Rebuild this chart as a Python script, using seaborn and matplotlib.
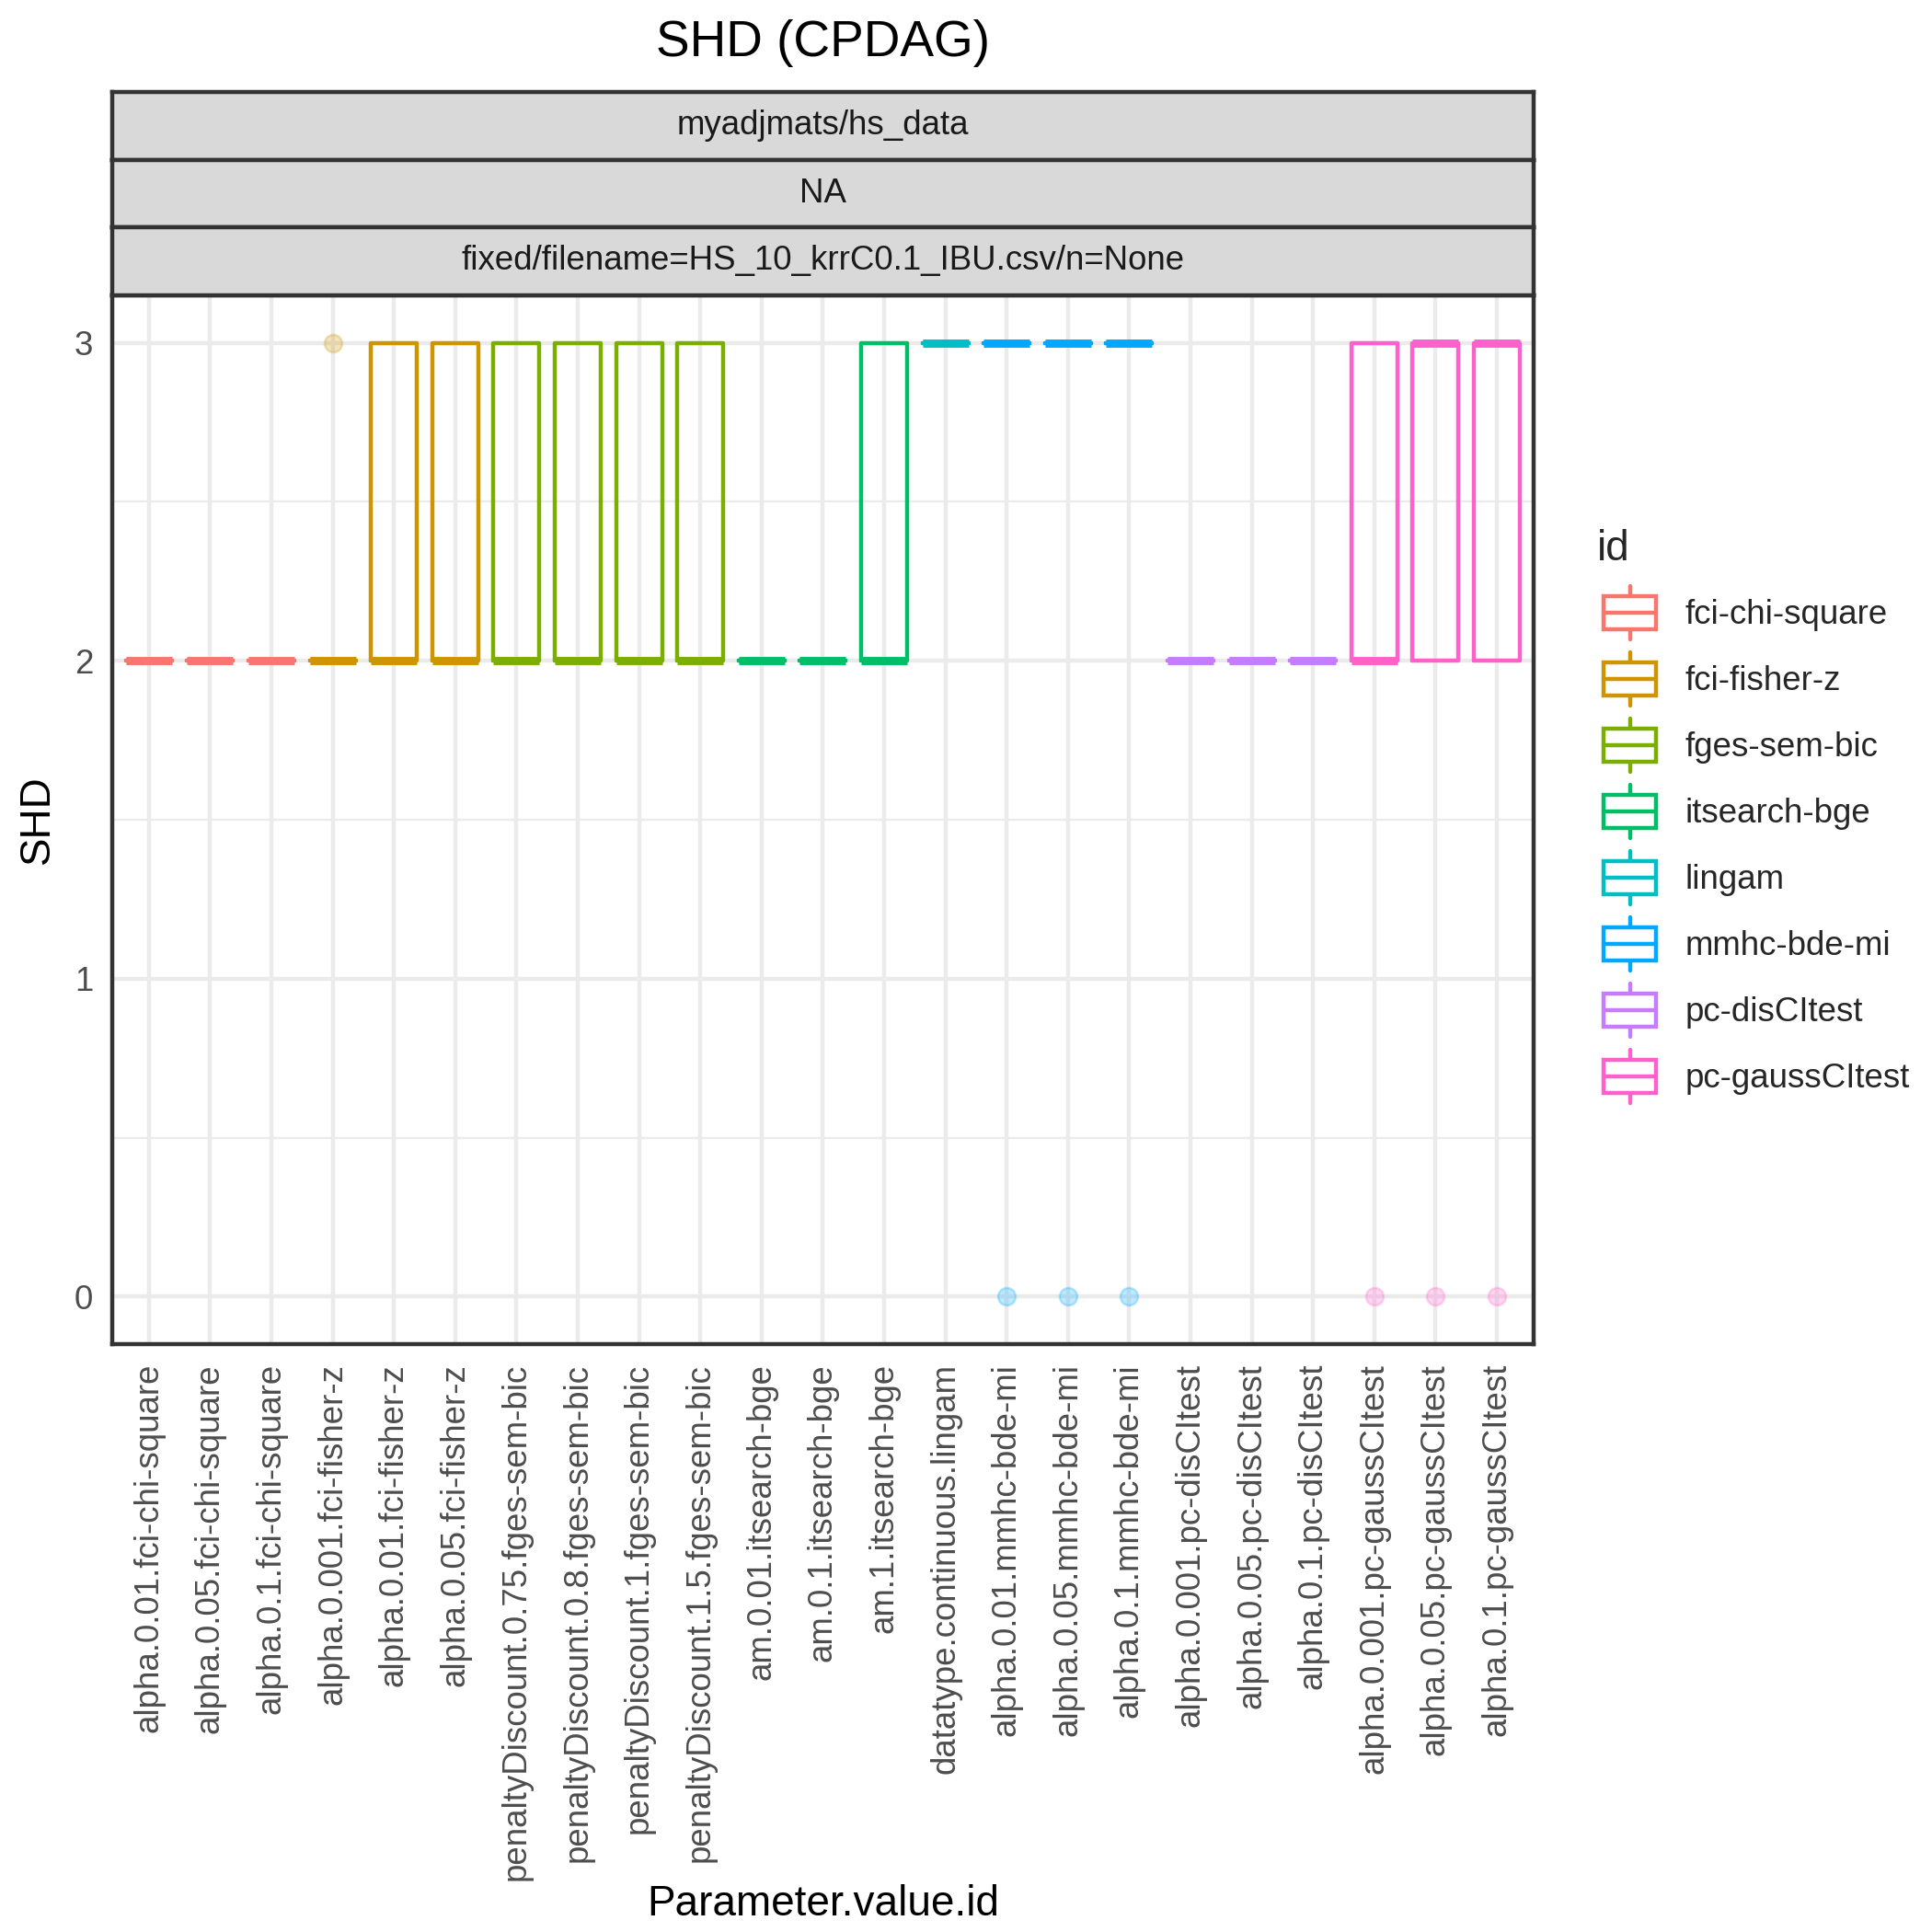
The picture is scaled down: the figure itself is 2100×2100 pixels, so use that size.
import matplotlib
matplotlib.use("Agg")
import matplotlib.pyplot as plt
import seaborn as sns
import pandas as pd
from matplotlib.legend_handler import HandlerBase
from matplotlib.lines import Line2D
from matplotlib.patches import Rectangle

# ---------------- data ----------------
params = [
    "alpha.0.01.fci-chi-square", "alpha.0.05.fci-chi-square", "alpha.0.1.fci-chi-square",
    "alpha.0.001.fci-fisher-z", "alpha.0.01.fci-fisher-z", "alpha.0.05.fci-fisher-z",
    "penaltyDiscount.0.75.fges-sem-bic", "penaltyDiscount.0.8.fges-sem-bic",
    "penaltyDiscount.1.fges-sem-bic", "penaltyDiscount.1.5.fges-sem-bic",
    "am.0.01.itsearch-bge", "am.0.1.itsearch-bge", "am.1.itsearch-bge",
    "datatype.continuous.lingam",
    "alpha.0.01.mmhc-bde-mi", "alpha.0.05.mmhc-bde-mi", "alpha.0.1.mmhc-bde-mi",
    "alpha.0.001.pc-disCItest", "alpha.0.05.pc-disCItest", "alpha.0.1.pc-disCItest",
    "alpha.0.001.pc-gaussCItest", "alpha.0.05.pc-gaussCItest", "alpha.0.1.pc-gaussCItest",
]
param_ids = [
    "fci-chi-square", "fci-chi-square", "fci-chi-square",
    "fci-fisher-z", "fci-fisher-z", "fci-fisher-z",
    "fges-sem-bic", "fges-sem-bic", "fges-sem-bic", "fges-sem-bic",
    "itsearch-bge", "itsearch-bge", "itsearch-bge",
    "lingam",
    "mmhc-bde-mi", "mmhc-bde-mi", "mmhc-bde-mi",
    "pc-disCItest", "pc-disCItest", "pc-disCItest",
    "pc-gaussCItest", "pc-gaussCItest", "pc-gaussCItest",
]
shd_runs = [
    [2, 2, 2, 2, 2], [2, 2, 2, 2, 2], [2, 2, 2, 2, 2],
    [2, 2, 2, 2, 3], [2, 2, 2, 3, 3], [2, 2, 2, 3, 3],
    [2, 2, 2, 3, 3], [2, 2, 2, 3, 3], [2, 2, 2, 3, 3], [2, 2, 2, 3, 3],
    [2, 2, 2, 2, 2], [2, 2, 2, 2, 2], [2, 2, 2, 3, 3],
    [3, 3, 3, 3, 3],
    [0, 3, 3, 3, 3], [0, 3, 3, 3, 3], [0, 3, 3, 3, 3],
    [2, 2, 2, 2, 2], [2, 2, 2, 2, 2], [2, 2, 2, 2, 2],
    [0, 2, 2, 3, 3], [0, 2, 3, 3, 3], [0, 2, 3, 3, 3],
]
id_levels = ["fci-chi-square", "fci-fisher-z", "fges-sem-bic", "itsearch-bge",
             "lingam", "mmhc-bde-mi", "pc-disCItest", "pc-gaussCItest"]
id_colors = ["#F8766D", "#CD9600", "#7CAE00", "#00BE67",
             "#00BFC4", "#00A9FF", "#C77CFF", "#FF61CC"]
strip_labels = ["myadjmats/hs_data", "NA", "fixed/filename=HS_10_krrC0.1_IBU.csv/n=None"]
y_ticks = [0, 1, 2, 3]
y_minor = [0.5, 1.5, 2.5]

rows = []
for p, i, vals in zip(params, param_ids, shd_runs):
    for v in vals:
        rows.append({"Parameter.value.id": p, "SHD": v, "id": i})
df = pd.DataFrame(rows)

# ---------------- style ----------------
sns.set_style("white")
plt.rcParams["font.family"] = ["Liberation Sans", "DejaVu Sans"]

GRID = "#EBEBEB"
DARK = "#333333"
LW = 1.07

fig = plt.figure(figsize=(7, 7), dpi=300)
W = 1552.0
left, right = 90 / W, 1232 / W
bottom, top = 1 - 1080 / W, 1 - 237 / W
ax = fig.add_axes([left, bottom, right - left, top - bottom])

sns.boxplot(data=df, x="Parameter.value.id", y="SHD", hue="id",
            order=params, hue_order=id_levels, palette=dict(zip(id_levels, id_colors)),
            dodge=False, width=0.75, fill=False, linewidth=LW, showcaps=False,
            medianprops={"linewidth": 2 * LW},
            flierprops={"marker": "o", "markersize": 4.6},
            legend=False, ax=ax)

for ln in ax.lines:
    if ln.get_marker() == "o":
        c = ln.get_markeredgecolor()
        ln.set_markerfacecolor(c)
        ln.set_alpha(0.25)
        ln.set_markeredgewidth(0.6)

ax.set_xlim(-0.6, len(params) - 1 + 0.6)
ax.set_ylim(-0.15, 3.15)
ax.set_yticks(y_ticks)
ax.set_yticks(y_minor, minor=True)
ax.grid(True, which="major", color=GRID, lw=LW)
ax.grid(True, which="minor", axis="y", color=GRID, lw=LW / 2)
ax.set_axisbelow(True)
ax.tick_params(axis="both", which="major", length=2.75, width=LW, color=DARK,
               labelsize=8.8, labelcolor="#4D4D4D", pad=2.2)
ax.tick_params(axis="y", which="minor", length=0)
for lab in ax.get_xticklabels():
    lab.set_rotation(90)
    lab.set_ha("center")
    lab.set_va("top")
for sp in ax.spines.values():
    sp.set_color(DARK)
    sp.set_linewidth(LW)
    sp.set_visible(True)

ax.set_xlabel("Parameter.value.id", fontsize=11, color="black", va="center")
ax.xaxis.set_label_coords(0.5, (1080 - 1530) / (1080 - 237))
ax.set_ylabel("SHD", fontsize=11, color="black", va="center")
ax.yaxis.set_label_coords((30 - 90) / (1232 - 90), 0.5)

# ---------------- strips ----------------
strip_top = 74 / W
sh = (237 - 74) / 3 / W
for k, txt in enumerate(strip_labels):
    sax = fig.add_axes([left, 1 - strip_top - (k + 1) * sh, right - left, sh])
    sax.set_facecolor("#D9D9D9")
    sax.set_xticks([])
    sax.set_yticks([])
    for sp in sax.spines.values():
        sp.set_color(DARK)
        sp.set_linewidth(LW)
        sp.set_visible(True)
    sax.text(0.5, 0.5, txt, ha="center", va="center", fontsize=8.8, color="#1A1A1A",
             transform=sax.transAxes)

# ---------------- title ----------------
fig.text((left + right) / 2, 1 - 35 / W, "SHD (CPDAG)", ha="center", va="center",
         fontsize=13.2, color="black")

# ---------------- legend ----------------
class BoxKeyHandler(HandlerBase):
    def create_artists(self, legend, orig_handle, xdescent, ydescent, width, height,
                       fontsize, trans):
        color = orig_handle.get_edgecolor()
        cx = -xdescent + width / 2
        cy = -ydescent + height / 2
        key = 17.28
        bw, bh = 0.8 * key, 0.5 * key
        rect = Rectangle((cx - bw / 2, cy - bh / 2), bw, bh, facecolor="white",
                         edgecolor=color, lw=LW, transform=trans)
        med = Line2D([cx - bw / 2, cx + bw / 2], [cy, cy], color=color, lw=LW,
                     transform=trans)
        w1 = Line2D([cx, cx], [cy + bh / 2, cy + 0.4 * key], color=color, lw=LW,
                    transform=trans)
        w2 = Line2D([cx, cx], [cy - bh / 2, cy - 0.4 * key], color=color, lw=LW,
                    transform=trans)
        return [w1, w2, rect, med]

handles = [Rectangle((0, 0), 1, 1, edgecolor=c, facecolor="white") for c in id_colors]
leg = fig.legend(handles, id_levels, handler_map={Rectangle: BoxKeyHandler()},
                 loc="upper left", bbox_to_anchor=(1282.7 / W, 1 - 425 / W),
                 bbox_transform=fig.transFigure, frameon=False, fontsize=8.8,
                 title="id", title_fontsize=11, handlelength=1.96, handleheight=1.721,
                 labelspacing=0.6, handletextpad=0.65, borderpad=0, borderaxespad=0,
                 alignment="left")

fig.savefig("out.png", dpi=300)
